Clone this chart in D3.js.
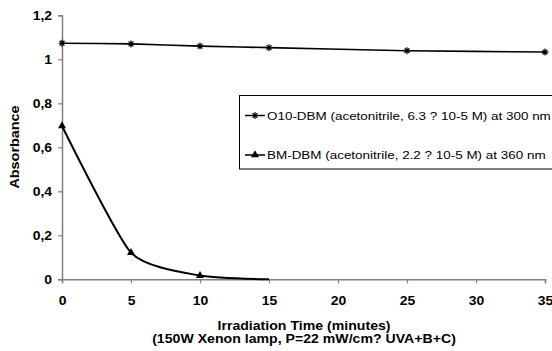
<!DOCTYPE html>
<html><head><meta charset="utf-8">
<script src="https://cdn.jsdelivr.net/npm/d3@7"></script>
<style>body{margin:0;background:#fff}svg{display:block;font-family:"Liberation Sans",Arial,sans-serif}</style>
</head><body><svg id="c" width="552" height="351"></svg>
<script>
const times = [0, 5, 10, 15, 25, 35];
const o10 = [1.073, 1.07, 1.06, 1.053, 1.039, 1.033];
const bmTimes = [0, 5, 10, 15];
const bm = [0.697, 0.121, 0.017, 0];
const xTicks = [0, 5, 10, 15, 20, 25, 30, 35];
const yTicks = [0, 0.2, 0.4, 0.6, 0.8, 1, 1.2];
const legendLabels = ["O10-DBM (acetonitrile, 6.3 ? 10-5 M) at 300 nm", "BM-DBM (acetonitrile, 2.2 ? 10-5 M) at 360 nm"];
const xTitle = ["Irradiation Time (minutes)", "(150W Xenon lamp, P=22 mW/cm? UVA+B+C)"];
const yTitle = "Absorbance";

const svg = d3.select("#c");
const x = d3.scaleLinear().domain([0, 35]).range([62, 545]);
const y = d3.scaleLinear().domain([0, 1.2]).range([279.3, 15.3]);
const fmt = d => String(d).replace(".", ",");
const SX = 1.16;

const xa = svg.append("g").attr("transform", `translate(0,${y(0)})`)
  .call(d3.axisBottom(x).tickValues(xTicks).tickSize(4).tickFormat(d => d));
const ya = svg.append("g").attr("transform", `translate(${x(0)},0)`)
  .call(d3.axisLeft(y).tickValues(yTicks).tickSize(4).tickFormat(fmt));
[xa, ya].forEach(a => {
  a.select(".domain").attr("stroke", "#808080").attr("stroke-width", 1.5);
  a.selectAll(".tick line").attr("stroke", "#808080").attr("stroke-width", 1.2);
  a.selectAll("text").attr("fill", "#000").style("font-size", "12px").style("font-weight", "bold").style("font-family", "'Liberation Sans',Arial,sans-serif");
});
xa.selectAll(".tick text").attr("x", 0).attr("y", 0).attr("dy", null).attr("transform", `translate(0,25.7) scale(${SX},1)`);
ya.selectAll(".tick text").attr("x", 0).attr("dy", "0.36em").attr("transform", `translate(-10,0) scale(${SX},1)`);

const line = d3.line().curve(d3.curveCardinal.tension(0.4));
svg.append("path").attr("d", line(times.map((t, i) => [x(t), y(o10[i])])))
  .attr("fill", "none").attr("stroke", "#000").attr("stroke-width", 1.6);
svg.append("path").attr("d", line(bmTimes.map((t, i) => [x(t), y(bm[i])])))
  .attr("fill", "none").attr("stroke", "#000").attr("stroke-width", 2);

function star(g, cx, cy, s) {
  const p = `M${cx - s},${cy}H${cx + s}M${cx - s * 0.7},${cy - s * 0.7}L${cx + s * 0.7},${cy + s * 0.7}M${cx - s * 0.7},${cy + s * 0.7}L${cx + s * 0.7},${cy - s * 0.7}M${cx},${cy - s}V${cy + s}`;
  g.append("path").attr("d", p).attr("stroke", "#000").attr("stroke-width", 1.2).attr("fill", "none");
}
const tri = d3.symbol().type(d3.symbolTriangle).size(28);
times.forEach((t, i) => star(svg, x(t), y(o10[i]), 3.5));
bmTimes.forEach((t, i) => { if (bm[i] > 0) svg.append("path").attr("d", tri()).attr("transform", `translate(${x(t)},${y(bm[i])})`).attr("fill", "#000"); });

// legend
const lg = svg.append("g");
lg.append("rect").attr("x", 239.5).attr("y", 95.5).attr("width", 330).attr("height", 73.5).attr("fill", "#fff").attr("stroke", "#000").attr("stroke-width", 1);
const rows = [115.5, 155];
rows.forEach((ry, i) => {
  lg.append("line").attr("x1", 245).attr("x2", 265).attr("y1", ry).attr("y2", ry).attr("stroke", "#000").attr("stroke-width", 1.5);
  if (i === 0) star(lg, 255, ry, 3.5);
  else lg.append("path").attr("d", tri()).attr("transform", `translate(255,${ry})`).attr("fill", "#000");
  lg.append("text").attr("transform", `translate(267,${ry + 4.2}) scale(1.17,1)`).style("font-size", "11.5px").text(legendLabels[i]);
});

svg.append("text").attr("transform", `translate(19.3,147) rotate(-90) scale(1.2,1)`).attr("text-anchor", "middle")
  .style("font-size", "12px").style("font-weight", "bold").text(yTitle);
xTitle.forEach((t, i) => svg.append("text").attr("transform", `translate(304,${330 + i * 13}) scale(1.13,1)`).attr("text-anchor", "middle")
  .style("font-size", "12.5px").style("font-weight", "bold").text(t));
</script></body></html>
